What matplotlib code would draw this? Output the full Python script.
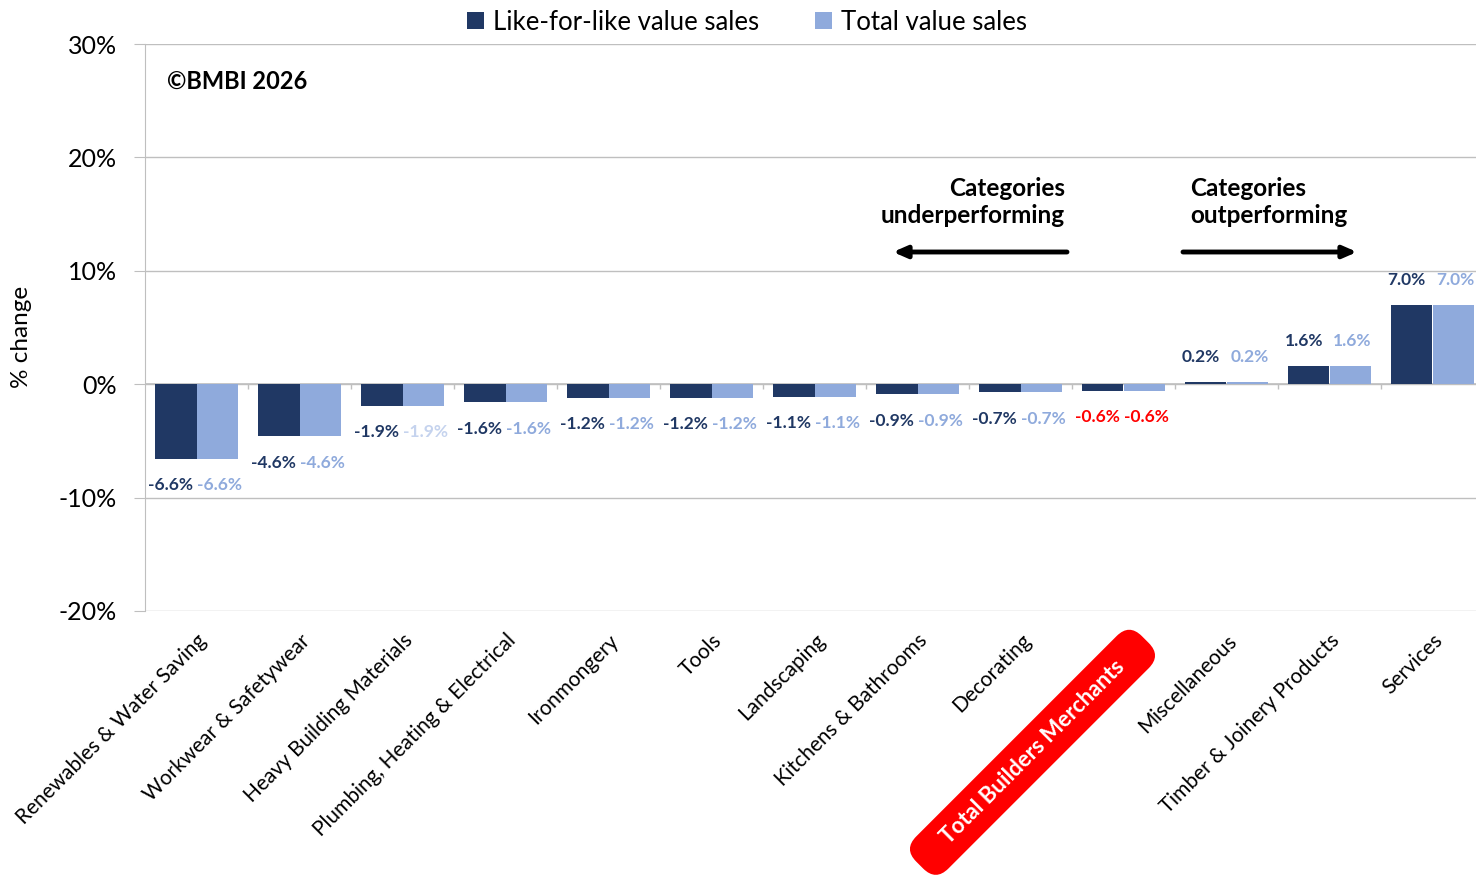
import matplotlib.pyplot as plt
from matplotlib.patches import BoxStyle
from matplotlib.transforms import ScaledTranslation
import numpy as np

plt.rcParams['font.family'] = ['Lato', 'DejaVu Sans']

categories = ['Renewables & Water Saving', 'Workwear & Safetywear', 'Heavy Building Materials',
              'Plumbing, Heating & Electrical', 'Ironmongery', 'Tools', 'Landscaping',
              'Kitchens & Bathrooms', 'Decorating', 'Total Builders Merchants',
              'Miscellaneous', 'Timber & Joinery Products', 'Services']
lfl_sales = [-6.6, -4.6, -1.9, -1.6, -1.2, -1.2, -1.1, -0.9, -0.7, -0.6, 0.2, 1.6, 7.0]
total_sales = [-6.6, -4.6, -1.9, -1.6, -1.2, -1.2, -1.1, -0.9, -0.7, -0.6, 0.2, 1.6, 7.0]
series_names = ['Like-for-like value sales', 'Total value sales']
y_ticks = [-20, -10, 0, 10, 20, 30]

DARK = '#203864'
LIGHT = '#8faadc'
GRID = '#bfbfbf'
total_idx = categories.index('Total Builders Merchants')

W, H = 1476, 883
fig = plt.figure(figsize=(W / 100, H / 100), dpi=100)
ax = fig.add_axes([145 / W, 1 - 611 / H, 1339 / W, 567 / H])

x = np.arange(len(categories))
w = 0.405
ax.bar(x - w / 2, lfl_sales, w, color=DARK, label=series_names[0], zorder=3)
ax.bar(x + w / 2, total_sales, w, color=LIGHT, label=series_names[1], zorder=3)

ax.set_xlim(-0.5, len(categories) - 0.5)
ax.set_ylim(-20, 30)
ax.set_yticks(y_ticks)
ax.set_yticklabels([f'{v}%' for v in y_ticks], fontsize=18)
ax.grid(axis='y', color=GRID, linewidth=1, zorder=0)
ax.axhline(0, color=GRID, linewidth=1.2, zorder=2)
# small tick marks on the zero line between groups
ax.vlines(np.arange(0.5, len(categories)), -0.45, 0, color=GRID, linewidth=1, zorder=2)

for s in ['top', 'right', 'bottom']:
    ax.spines[s].set_visible(False)
ax.spines['left'].set_color(GRID)
ax.tick_params(axis='y', length=8, color=GRID, pad=12)
ax.tick_params(axis='x', length=0, pad=14)


def long_round(x0, y0, width, height, mutation_size):
    # rounded box with extra room along the text
    extra = 1.0 * mutation_size
    return BoxStyle.Round(pad=0.55, rounding_size=0.8)(x0 - extra, y0, width + 2 * extra,
                                                         height, mutation_size)


ax.set_xticks(x)
labels = ax.set_xticklabels(categories, rotation=45, ha='right', rotation_mode='anchor',
                            fontsize=15)
for i, lab in enumerate(labels):
    if i == total_idx:
        lab.set_color('white')
        lab.set_fontweight('bold')
        lab.set_fontsize(16)
        lab.set_bbox(dict(boxstyle=long_round, fc='#ff0000', ec='none'))
        lab.set_transform(lab.get_transform() + ScaledTranslation(-0.10, -0.26, fig.dpi_scale_trans))

ax.set_ylabel('% change', fontsize=17.5)
ax.yaxis.set_label_coords(-113 / 1339, (611 - 337) / 567)

# data labels
for i in range(len(categories)):
    for val, dx, col, xo in [(lfl_sales[i], -w / 2, DARK, -3.5), (total_sales[i], w / 2, LIGHT, 1.5)]:
        c = col
        if i == total_idx:
            c = '#ff0000'
        elif i == 2 and col == LIGHT:
            c = '#c5d3ee'
        off = 18 if val >= 0 else -19
        ax.annotate(f'{val:.1f}%', (x[i] + dx, val), xytext=(xo, off),
                    textcoords='offset points', ha='center', va='center',
                    fontsize=12.5, fontweight='bold', color=c, zorder=4)

fig.text(167 / W, 1 - 81 / H, '©BMBI 2026', fontsize=17, fontweight='bold',
         va='center', ha='left')

fig.text(1065 / W, 1 - 202 / H, 'Categories\nunderperforming', fontsize=17.5,
         fontweight='bold', ha='right', va='center', linespacing=1.25)
fig.text(1190 / W, 1 - 202 / H, 'Categories\noutperforming', fontsize=17.5,
         fontweight='bold', ha='left', va='center', linespacing=1.25)
arrow = dict(arrowstyle='-|>,head_length=0.8,head_width=0.35', lw=3.5, color='black',
             shrinkA=0, shrinkB=0)
fig.add_artist(plt.Annotation('', xy=(893 / W, 1 - 252 / H), xytext=(1067 / W, 1 - 252 / H),
                              xycoords='figure fraction', arrowprops=arrow))
fig.add_artist(plt.Annotation('', xy=(1357 / W, 1 - 252 / H), xytext=(1183 / W, 1 - 252 / H),
                              xycoords='figure fraction', arrowprops=arrow))

fig.legend(loc='upper center', bbox_to_anchor=(747 / W, 1.015), ncol=2, frameon=False,
           fontsize=18.5, handlelength=0.65, handleheight=0.65, handletextpad=0.35,
           columnspacing=2.2)

fig.savefig('out.png', dpi=100)
